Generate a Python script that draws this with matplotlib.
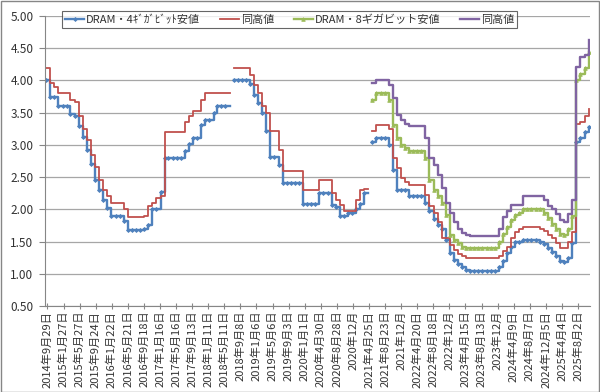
import numpy as np
import pandas as pd
import matplotlib
matplotlib.use('Agg')
from matplotlib import pyplot as plt
from matplotlib.patches import Rectangle

plt.rcParams['font.family'] = ['Noto Sans CJK JP', 'DejaVu Sans']

# monthly readings, Sep 2014 .. Oct 2025 (None = no data)
months = pd.date_range('2014-09-01', '2025-10-01', freq='MS') + pd.Timedelta(days=19)

dram4_low = [
    4.00, 3.75, 3.75, 3.60, 3.60, 3.60, 3.48, 3.45, 3.30, 3.13,
    2.92, 2.70, 2.45, 2.30, 2.15, 2.02, 1.89, 1.89, 1.89, 1.82,
    1.68, 1.68, 1.68, 1.68, 1.70, 1.75, 2.00, 2.00, 2.27, 2.80,
    2.80, 2.80, 2.80, 2.80, 2.90, 3.02, 3.10, 3.10, 3.31, 3.39,
    3.39, 3.49, 3.60, 3.60, 3.60, None, 4.00, 4.00, 4.00, 4.00,
    3.95, 3.78, 3.65, 3.49, 3.21, 2.81, 2.81, 2.69, 2.41, 2.41,
    2.41, 2.41, 2.41, 2.08, 2.08, 2.08, 2.08, 2.25, 2.25, 2.25,
    2.06, 2.03, 1.89, 1.90, 1.95, 1.95, 2.00, 2.09, 2.25, None,
    3.05, 3.10, 3.10, 3.10, 3.00, 2.61, 2.30, 2.30, 2.30, 2.21,
    2.21, 2.21, 2.21, 2.10, 1.97, 1.85, 1.76, 1.70, 1.52, 1.32,
    1.22, 1.15, 1.10, 1.06, 1.05, 1.05, 1.05, 1.05, 1.05, 1.05,
    1.05, 1.10, 1.20, 1.33, 1.42, 1.50, 1.50, 1.53, 1.53, 1.53,
    1.53, 1.50, 1.46, 1.40, 1.34, 1.28, 1.20, 1.19, 1.25, 1.47,
    3.05, 3.10, 3.20, 3.28]

dram4_high = [
    4.20, 3.96, 3.90, 3.81, 3.81, 3.81, 3.70, 3.67, 3.45, 3.25,
    3.07, 2.85, 2.65, 2.45, 2.30, 2.20, 2.10, 2.10, 2.10, 2.00,
    1.88, 1.88, 1.88, 1.88, 1.90, 2.05, 2.10, 2.18, 2.20, 3.20,
    3.20, 3.20, 3.20, 3.20, 3.36, 3.45, 3.52, 3.52, 3.70, 3.81,
    3.81, 3.81, 3.81, 3.81, 3.81, None, 4.20, 4.20, 4.20, 4.20,
    4.09, 3.93, 3.80, 3.60, 3.49, 3.21, 3.21, 2.92, 2.60, 2.60,
    2.60, 2.60, 2.60, 2.30, 2.30, 2.30, 2.30, 2.46, 2.46, 2.46,
    2.25, 2.15, 2.06, 1.98, 1.98, 1.98, 2.15, 2.30, 2.32, None,
    3.22, 3.31, 3.31, 3.31, 3.25, 2.79, 2.64, 2.48, 2.42, 2.38,
    2.38, 2.38, 2.38, 2.22, 2.05, 1.94, 1.80, 1.55, 1.55, 1.45,
    1.37, 1.30, 1.27, 1.25, 1.25, 1.25, 1.25, 1.25, 1.25, 1.25,
    1.25, 1.28, 1.35, 1.42, 1.55, 1.65, 1.70, 1.73, 1.73, 1.73,
    1.73, 1.70, 1.66, 1.60, 1.55, 1.47, 1.40, 1.40, 1.50, 1.65,
    3.33, 3.36, 3.45, 3.56]

dram8_low = [None] * 80 + [
    3.70, 3.80, 3.80, 3.80, 3.70, 3.31, 3.10, 3.00, 2.95, 2.90,
    2.90, 2.90, 2.90, 2.79, 2.45, 2.30, 2.20, 2.10, 1.91, 1.60,
    1.53, 1.48, 1.42, 1.40, 1.40, 1.40, 1.40, 1.40, 1.40, 1.40,
    1.40, 1.50, 1.62, 1.73, 1.84, 1.91, 1.95, 2.00, 2.00, 2.00,
    2.00, 2.00, 1.94, 1.86, 1.78, 1.70, 1.62, 1.60, 1.70, 1.90,
    4.00, 4.10, 4.20, 4.44]

dram8_high = [None] * 80 + [
    3.96, 4.00, 4.00, 4.00, 3.93, 3.73, 3.47, 3.39, 3.33, 3.29,
    3.29, 3.29, 3.29, 3.10, 2.80, 2.69, 2.53, 2.33, 2.10, 1.95,
    1.80, 1.70, 1.63, 1.60, 1.58, 1.58, 1.58, 1.58, 1.58, 1.58,
    1.58, 1.70, 1.88, 1.97, 2.07, 2.07, 2.07, 2.20, 2.20, 2.20,
    2.20, 2.20, 2.14, 2.05, 2.00, 1.92, 1.83, 1.81, 1.92, 2.15,
    4.21, 4.36, 4.39, 4.62]

series_names = ['DRAM・4ｷﾞｶﾞﾋﾞｯﾄ安値', '同高値', 'DRAM・8ギガビット安値', '同高値']

# date axis: a label every 120 days from 2014-09-29
tick_dates = pd.date_range('2014-09-29', periods=34, freq='120D')
tick_labels = [
    '2014年9月29日', '2015年1月27日', '2015年5月27日', '2015年9月24日',
    '2016年1月22日', '2016年5月21日', '2016年9月18日', '2017年1月16日',
    '2017年5月16日', '2017年9月13日', '2018年1月11日', '2018年5月11日',
    '2018年9月8日', '2019年1月6日', '2019年5月6日', '2019年9月3日',
    '2020年1月1日', '2020年4月30日', '2020年8月28日', '2020年12月',
    '2021年4月25日', '2021年8月23日', '2021年12月', '2022年4月20日',
    '2022年8月18日', '2022年12月', '2023年4月15日', '2023年8月13日',
    '2023年12月', '2024年4月9日', '2024年8月7日', '2024年12月5日',
    '2025年4月4日', '2025年8月2日']

fig = plt.figure(figsize=(6, 3.92), dpi=100)
ax = fig.add_axes([44.5 / 600, 1 - 306 / 392, (589.5 - 44.5) / 600, (306 - 16) / 392])

styles = [
    dict(color='#4F81BD', lw=1.7, marker='D', ms=2.0, mew=0.6),
    dict(color='#C0504D', lw=1.3),
    dict(color='#9BBB59', lw=1.7, marker='^', ms=2.6, mew=0.6),
    dict(color='#8064A2', lw=1.7),
]
for vals, name, st in zip([dram4_low, dram4_high, dram8_low, dram8_high], series_names, styles):
    ax.plot(months, np.array(vals, dtype=float), drawstyle='steps-post', label=name, **st)

ax.set_ylim(0.5, 5.0)
ax.set_yticks(np.arange(0.5, 5.01, 0.5))
ax.set_yticklabels(['%.2f' % v for v in np.arange(0.5, 5.01, 0.5)])
ax.set_xlim(pd.Timestamp('2014-09-07'), pd.Timestamp('2025-10-27'))
ax.set_xticks(tick_dates)
ax.set_xticklabels(tick_labels, rotation=90, va='top', ha='center')

ax.grid(axis='y', color='#A6A6A6', lw=0.9)
ax.set_axisbelow(True)
for s in ['top', 'right']:
    ax.spines[s].set_visible(False)
for s in ['left', 'bottom']:
    ax.spines[s].set_color('#868686')
ax.tick_params(axis='y', labelsize=8.5, colors='#868686', labelcolor='#333333',
               length=4, pad=4)
ax.tick_params(axis='x', labelsize=8, colors='#868686', labelcolor='#333333',
               direction='inout', length=5, pad=1)

leg = fig.legend(loc='upper left', bbox_to_anchor=(62 / 600, 1 - 11 / 392),
                 ncol=4, fontsize=8, frameon=True, fancybox=False,
                 handlelength=1.7, handletextpad=0.15, columnspacing=1.8,
                 borderpad=0.3, borderaxespad=0)
leg.get_frame().set_edgecolor('#404040')
leg.get_frame().set_linewidth(0.8)
for t in leg.get_texts():
    t.set_color('#333333')

# chart border
fig.patches.append(Rectangle((0.001, 0.001), 0.997, 0.997, transform=fig.transFigure,
                             fill=False, edgecolor='#868686', lw=1))

plt.savefig('out.png', dpi=100)
